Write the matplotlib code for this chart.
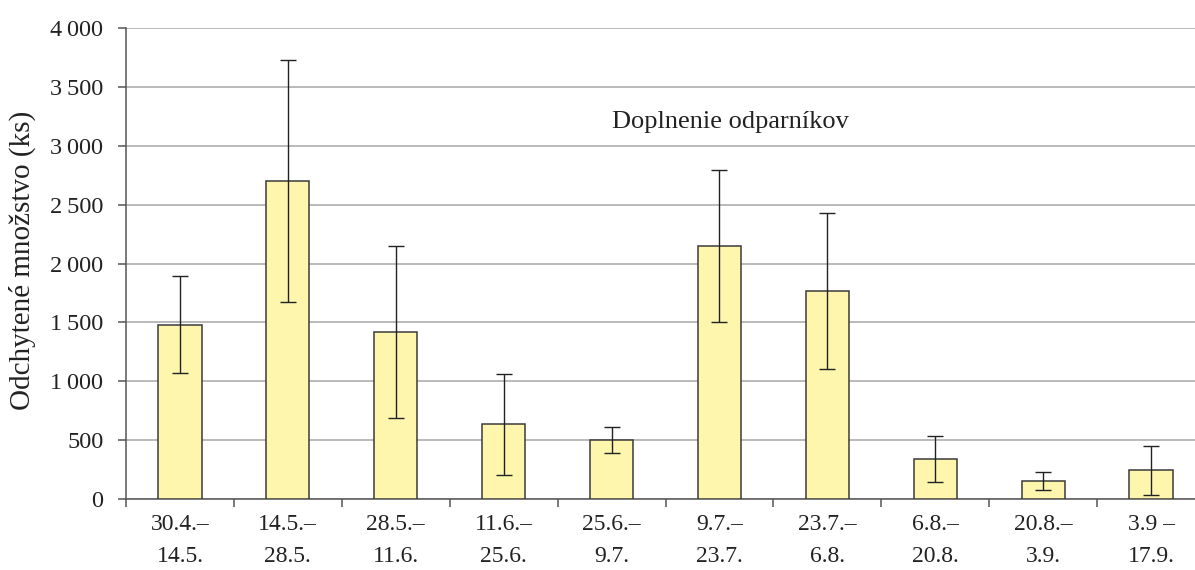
import matplotlib
matplotlib.use("Agg")
import matplotlib.pyplot as plt
import numpy as np
from matplotlib.ticker import FuncFormatter, FixedLocator, NullFormatter

# data
periods = ["30.4.–\n14.5.", "14.5.–\n28.5.", "28.5.–\n11.6.", "11.6.–\n25.6.",
           "25.6.–\n9.7.", "9.7.–\n23.7.", "23.7.–\n6.8.", "6.8.–\n20.8.",
           "20.8.–\n3.9.", "3.9 –\n17.9."]
counts = [1480, 2700, 1420, 635, 500, 2150, 1765, 342, 152, 243]
errors = [410, 1028, 728, 428, 113, 644, 665, 197, 76, 206]
y_ticks = [0, 500, 1000, 1500, 2000, 2500, 3000, 3500, 4000]

plt.rcParams['font.family'] = ['Liberation Serif', 'DejaVu Serif']

fig = plt.figure(figsize=(11.95, 5.70), dpi=100)
ax = fig.add_axes([126 / 1195, 71 / 570, 1079 / 1195, 471 / 570])

x = np.arange(len(counts))
ax.bar(x, counts, width=0.40, color='#fff6ae', edgecolor='#3a3a3a', linewidth=1.1, zorder=3)
ax.errorbar(x, counts, yerr=errors, fmt='none', ecolor='#222222', elinewidth=1.0,
            capsize=5.5, capthick=1.0, zorder=4)

ax.set_xlim(-0.5, len(counts) - 0.5)
ax.set_ylim(0, 4000)
ax.set_yticks(y_ticks)
ax.yaxis.set_major_formatter(FuncFormatter(lambda v, p: f"{int(v):,}".replace(",", "\u2009")))
ax.grid(axis='y', color='#b4b4b4', linewidth=1.3, zorder=0)

# category boundary ticks, labels at the centres
ax.xaxis.set_major_locator(FixedLocator(np.arange(-0.5, len(counts) + 0.5, 1.0)))
ax.xaxis.set_major_formatter(NullFormatter())
ax.set_xticks(x, minor=True)
ax.set_xticklabels(periods, minor=True, fontsize=17, linespacing=1.7)
ax.tick_params(axis='x', which='major', length=6, width=1.1, color='#555555')
ax.tick_params(axis='x', which='minor', length=0, pad=11)
ax.tick_params(axis='y', length=5.8, width=1.1, color='#555555', labelsize=17.5, pad=10.5)
for lbl in ax.get_yticklabels() + ax.get_xticklabels(minor=True):
    lbl.set_color('#222222')

for side in ['top', 'right']:
    ax.spines[side].set_visible(False)
for side in ['left', 'bottom']:
    ax.spines[side].set_color('#555555')
    ax.spines[side].set_linewidth(1.1)

ax.set_ylabel("Odchytené množstvo (ks)", fontsize=21, color='#222222')
ax.yaxis.set_label_coords(-0.083, 0.507)
ax.text(0.56, 3200, "Doplnenie odparníkov", transform=ax.get_yaxis_transform(),
        ha='center', va='center', fontsize=19, color='#222222')

fig.savefig("out.png", dpi=100)
plt.close()
